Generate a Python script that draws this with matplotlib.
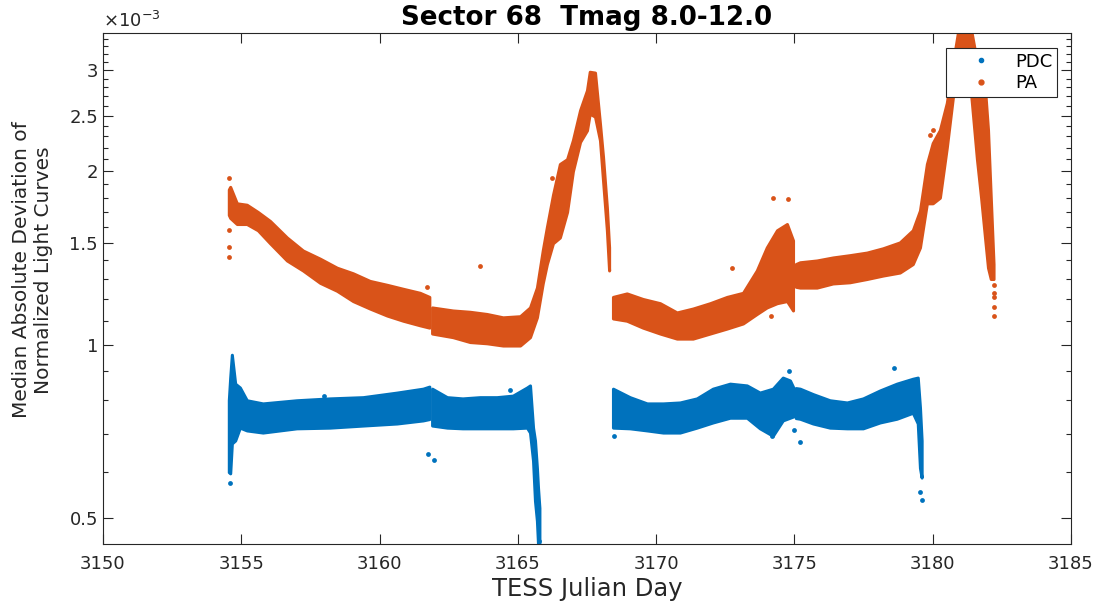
import numpy as np
import matplotlib.pyplot as plt
from matplotlib.lines import Line2D

PDC_COLOR = "#0072BD"
PA_COLOR = "#D95319"
AX_COLOR = "#262626"

# values, in units of 1e-3
# each segment: time, lower edge, upper edge of the dense band
pa_t1 = [3154.55, 3154.6, 3154.84, 3155.2, 3155.6, 3156.04, 3156.65, 3157.23, 3157.85,
         3158.46, 3159.04, 3159.65, 3160.27, 3160.85, 3161.46, 3161.8]
pa_lo1 = [1.68, 1.66, 1.62, 1.62, 1.58, 1.50, 1.40, 1.345, 1.28, 1.24, 1.19, 1.155, 1.123,
          1.10, 1.08, 1.07]
pa_hi1 = [1.86, 1.88, 1.76, 1.75, 1.70, 1.64, 1.535, 1.457, 1.41, 1.36, 1.33, 1.29, 1.27,
          1.25, 1.23, 1.21]

pa_t2 = [3161.9, 3162.65, 3163.27, 3163.88, 3164.46, 3165.08, 3165.44, 3165.69, 3165.9,
         3166.05, 3166.27, 3166.52, 3166.78, 3166.99, 3167.25, 3167.5, 3167.6, 3167.79,
         3167.97, 3168.08, 3168.22, 3168.3]
pa_lo2 = [1.045, 1.03, 1.01, 1.005, 0.996, 0.996, 1.03, 1.115, 1.277, 1.38, 1.50, 1.535,
          1.70, 2.00, 2.25, 2.357, 2.52, 2.49, 2.265, 1.93, 1.58, 1.345]
pa_hi2 = [1.16, 1.146, 1.14, 1.13, 1.115, 1.12, 1.16, 1.256, 1.457, 1.60, 1.82, 2.06, 2.10,
          2.265, 2.555, 2.767, 2.98, 2.97, 2.42, 2.12, 1.73, 1.475]

pa_t3 = [3168.44, 3168.94, 3169.52, 3170.14, 3170.75, 3171.33, 3171.95, 3172.56, 3173.14,
         3173.64, 3174.0, 3174.37, 3174.73, 3174.95]
pa_lo3 = [1.11, 1.10, 1.07, 1.045, 1.024, 1.024, 1.045, 1.066, 1.088, 1.13, 1.16, 1.18,
          1.19, 1.146]
pa_hi3 = [1.21, 1.227, 1.20, 1.18, 1.137, 1.155, 1.18, 1.21, 1.23, 1.345, 1.475, 1.58,
          1.62, 1.517]

pa_t4 = [3175.05, 3175.2, 3175.81, 3176.39, 3177.0, 3177.62, 3178.2, 3178.81, 3179.28,
         3179.54, 3179.79, 3180.0, 3180.26, 3180.51, 3180.73, 3180.91, 3181.16, 3181.4,
         3181.6, 3181.75, 3181.9, 3182.0, 3182.1, 3182.2]
pa_lo4 = [1.26, 1.256, 1.256, 1.277, 1.283, 1.30, 1.318, 1.334, 1.38, 1.475, 1.76, 1.76,
          1.80, 2.2, 2.69, 3.08, 3.38, 2.69, 2.10, 1.80, 1.52, 1.36, 1.30, 1.30]
pa_hi4 = [1.38, 1.39, 1.40, 1.417, 1.43, 1.445, 1.47, 1.505, 1.58, 1.71, 2.06, 2.24, 2.36,
          2.63, 3.08, 3.48, 3.6, 3.5, 3.1, 2.95, 2.75, 2.36, 1.80, 1.38]

pdc_t1 = [3154.55, 3154.6, 3154.66, 3154.78, 3154.95, 3155.2, 3155.78, 3157.0, 3158.2,
          3159.4, 3160.63, 3161.57, 3161.8]
pdc_lo1 = [0.60, 0.597, 0.673, 0.681, 0.717, 0.709, 0.703, 0.715, 0.717, 0.723, 0.729,
           0.738, 0.742]
pdc_hi1 = [0.80, 0.876, 0.96, 0.855, 0.842, 0.80, 0.79, 0.80, 0.806, 0.81, 0.825, 0.838,
           0.845]

pdc_t2 = [3161.9, 3162.44, 3163.0, 3163.63, 3164.24, 3164.82, 3165.33, 3165.44, 3165.55,
          3165.62, 3165.69, 3165.73, 3165.78]
pdc_lo2 = [0.723, 0.717, 0.715, 0.715, 0.715, 0.715, 0.717, 0.703, 0.628, 0.535, 0.494,
           0.45, 0.44]
pdc_hi2 = [0.838, 0.81, 0.806, 0.81, 0.81, 0.815, 0.842, 0.849, 0.717, 0.681, 0.61, 0.563,
           0.52]

pdc_t3 = [3168.44, 3169.05, 3169.67, 3170.25, 3170.86, 3171.47, 3172.05, 3172.67, 3173.28,
          3173.75, 3174.22, 3174.58, 3174.84, 3174.97]
pdc_lo3 = [0.717, 0.715, 0.709, 0.703, 0.703, 0.717, 0.732, 0.746, 0.746, 0.715, 0.694,
           0.738, 0.746, 0.75]
pdc_hi3 = [0.838, 0.81, 0.79, 0.79, 0.793, 0.806, 0.838, 0.855, 0.849, 0.825, 0.838, 0.876,
           0.866, 0.84]

pdc_t4 = [3175.05, 3175.2, 3175.67, 3176.28, 3176.9, 3177.48, 3178.09, 3178.7, 3179.28,
          3179.46, 3179.54, 3179.6]
pdc_lo4 = [0.745, 0.743, 0.729, 0.717, 0.715, 0.715, 0.732, 0.743, 0.761, 0.729, 0.61, 0.587]
pdc_hi4 = [0.84, 0.838, 0.82, 0.80, 0.793, 0.806, 0.832, 0.855, 0.872, 0.876, 0.777, 0.681]

# isolated points outside the dense band
pa_out_t = [3154.55, 3154.55, 3154.55, 3154.55, 3163.63, 3161.71, 3166.25, 3174.22, 3174.77,
            3172.74, 3174.15, 3182.2, 3182.2, 3182.2, 3182.2, 3182.2, 3180.0, 3179.92]
pa_out_v = [1.95, 1.58, 1.476, 1.42, 1.37, 1.26, 1.95, 1.80, 1.79, 1.36, 1.12, 1.27, 1.23,
            1.21, 1.16, 1.12, 2.36, 2.31]
pdc_out_t = [3154.6, 3161.75, 3161.97, 3164.71, 3158.0, 3168.48, 3174.8, 3178.6, 3175.0,
             3175.2, 3179.54, 3179.6, 3165.75, 3174.2]
pdc_out_v = [0.575, 0.644, 0.631, 0.832, 0.815, 0.694, 0.901, 0.912, 0.709, 0.678, 0.555,
             0.537, 0.455, 0.694]

pa_segments = [(pa_t1, pa_lo1, pa_hi1), (pa_t2, pa_lo2, pa_hi2),
               (pa_t3, pa_lo3, pa_hi3), (pa_t4, pa_lo4, pa_hi4)]
pdc_segments = [(pdc_t1, pdc_lo1, pdc_hi1), (pdc_t2, pdc_lo2, pdc_hi2),
                (pdc_t3, pdc_lo3, pdc_hi3), (pdc_t4, pdc_lo4, pdc_hi4)]

y_major = [0.5, 1, 1.5, 2, 2.5, 3]
y_major_labels = ["0.5", "1", "1.5", "2", "2.5", "3"]
x_ticks = [3150, 3155, 3160, 3165, 3170, 3175, 3180, 3185]

fig = plt.figure(figsize=(10.99, 6.07), dpi=100)
ax = fig.add_axes([0.0937, 0.1038, 0.8808, 0.8418])

for segs, color in [(pdc_segments, PDC_COLOR), (pa_segments, PA_COLOR)]:
    for t, lo, hi in segs:
        ax.fill_between(t, lo, hi, color=color, edgecolor=color, linewidth=2.2, zorder=2)

ax.scatter(pdc_out_t, pdc_out_v, s=12, color=PDC_COLOR, zorder=3, linewidths=0)
ax.scatter(pa_out_t, pa_out_v, s=12, color=PA_COLOR, zorder=3, linewidths=0)

ax.set_yscale("log")
ax.set_xlim(3150, 3185)
ax.set_ylim(0.45, 3.48)
ax.set_xticks(x_ticks)
ax.set_yticks(y_major)
ax.set_yticklabels(y_major_labels)
minor = [round(v, 1) for v in np.arange(0.5, 3.45, 0.1)]
minor = [v for v in minor if v not in y_major]
ax.set_yticks(minor, minor=True)
ax.yaxis.set_minor_formatter(plt.NullFormatter())

ax.tick_params(which="both", direction="in", top=True, right=True, colors=AX_COLOR,
               labelsize=13, width=0.8)
ax.tick_params(which="major", length=7)
ax.tick_params(which="minor", length=3.5)
ax.tick_params(axis="x", pad=8)
for sp in ax.spines.values():
    sp.set_color(AX_COLOR)
    sp.set_linewidth(0.8)

ax.set_xlabel("TESS Julian Day", fontsize=17.5, color=AX_COLOR, labelpad=3)
ax.set_ylabel("Median Absolute Deviation of\nNormalized Light Curves", fontsize=14.5,
              color=AX_COLOR, linespacing=1.2)
ax.yaxis.set_label_coords(-0.0517, 0.536)
ax.set_title("Sector 68  Tmag 8.0-12.0", fontsize=18.8, fontweight="bold", pad=6)
ax.text(0.0, 1.004, r"$\times10^{-3}$", transform=ax.transAxes, fontsize=13,
        color=AX_COLOR, ha="left", va="bottom")

handles = [Line2D([], [], linestyle="none", marker="o", markersize=3, color=PDC_COLOR),
           Line2D([], [], linestyle="none", marker="o", markersize=3.5, color=PA_COLOR)]
leg = ax.legend(handles, ["PDC", "PA"], loc="upper right", bbox_to_anchor=(0.9855, 0.9706),
                borderaxespad=0, fontsize=13, frameon=True, fancybox=False, framealpha=1,
                edgecolor=AX_COLOR, handletextpad=0.26, borderpad=0.25, labelspacing=0.2,
                handlelength=3.3)
leg.get_frame().set_linewidth(0.8)
leg.set_zorder(5)

fig.savefig("out.png", dpi=100)
